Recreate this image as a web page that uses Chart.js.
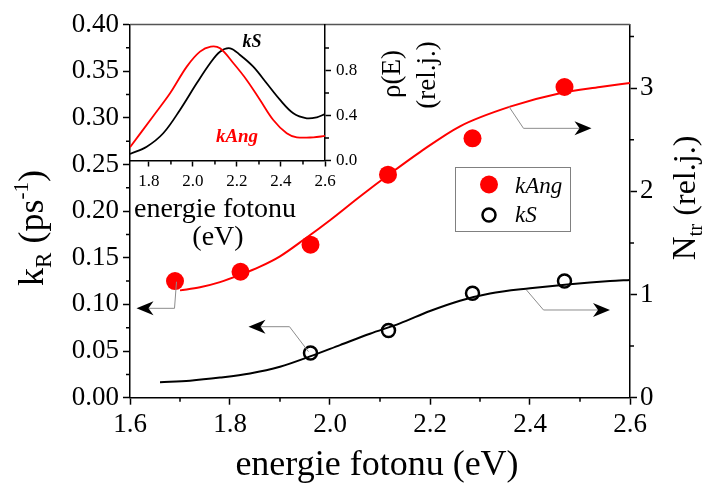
<!DOCTYPE html>
<html>
<head>
<meta charset="utf-8">
<script src="https://cdn.jsdelivr.net/npm/chart.js@4"></script>
<style>
  html, body { margin: 0; padding: 0; background: #fff; }
  #wrap { position: relative; width: 710px; height: 489px; }
  #main, #inset { position: absolute; left: 0; top: 0; }
  #inset { pointer-events: none; }
  .preload { position: absolute; left: -1000px; top: 0; font-family: "Liberation Serif"; }
</style>
</head>
<body>
<div id="wrap">
  <canvas id="main" width="710" height="489"></canvas>
  <canvas id="inset" width="450" height="260"></canvas>
</div>
<span class="preload">0.4 <i>kAng</i> <b><i>kS</i></b> ρ</span>
<script>
// ---- measured rates k_R (left axis) ----
const eAng = [1.69, 1.821, 1.961, 2.116, 2.285, 2.469];
const kAng = [0.125, 0.135, 0.164, 0.239, 0.278, 0.333];
const eS = [1.961, 2.117, 2.285, 2.469];
const kS = [0.048, 0.072, 0.112, 0.125];

// ---- N_tr curves (right axis) ----
const eNtrAng = [1.70, 1.74, 1.78, 1.82, 1.86, 1.90, 1.95, 2.00, 2.06, 2.12, 2.18, 2.26, 2.36, 2.46, 2.54, 2.60];
const ntrAng = [1.04, 1.07, 1.12, 1.19, 1.27, 1.37, 1.54, 1.72, 1.95, 2.17, 2.38, 2.63, 2.82, 2.95, 3.01, 3.05];
const eNtrS = [1.66, 1.72, 1.78, 1.84, 1.90, 1.96, 2.02, 2.08, 2.14, 2.20, 2.26, 2.32, 2.40, 2.48, 2.56, 2.60];
const ntrS = [0.15, 0.165, 0.195, 0.235, 0.30, 0.40, 0.51, 0.62, 0.72, 0.84, 0.94, 1.01, 1.06, 1.10, 1.13, 1.14];

// ---- inset: rho(E) spectra ----
const eRhoAng = [1.714, 1.82, 1.896, 1.972, 2.032, 2.081, 2.123, 2.184, 2.244, 2.305, 2.365, 2.426, 2.472, 2.547, 2.6];
const rhoAng = [0.117, 0.396, 0.597, 0.834, 0.967, 1.012, 0.997, 0.864, 0.716, 0.538, 0.36, 0.242, 0.206, 0.206, 0.218];
const eRhoS = [1.714, 1.79, 1.865, 1.941, 2.017, 2.078, 2.123, 2.169, 2.214, 2.274, 2.335, 2.396, 2.456, 2.517, 2.563, 2.6];
const rhoS = [0.058, 0.123, 0.242, 0.449, 0.686, 0.864, 0.967, 0.997, 0.938, 0.834, 0.686, 0.538, 0.42, 0.375, 0.384, 0.413];

// ---- tick labels ----
const xTicks = [1.6, 1.8, 2.0, 2.2, 2.4, 2.6];
const xMinor = [1.7, 1.9, 2.1, 2.3, 2.5];
const kTicks = [0, 0.05, 0.10, 0.15, 0.20, 0.25, 0.30, 0.35, 0.40];
const kMinor = [0.025, 0.075, 0.125, 0.175, 0.225, 0.275, 0.325, 0.375];
const ntrTicks = [0, 1, 2, 3];
const ntrMinor = [0.5, 1.5, 2.5, 3.5];
const insetXTicks = [1.8, 2.0, 2.2, 2.4, 2.6];
const insetXMinor = [1.9, 2.1, 2.3, 2.5];
const rhoTicks = [0, 0.4, 0.8];
const rhoMinor = [0.2, 0.6, 1.0];

// arrows pointing each series to its axis: [x, k_R] path, last point is the tip
const arrows = [
  [[2.357, 0.3127], [2.387, 0.2887], [2.523, 0.2887]],
  [[1.693, 0.1243], [1.689, 0.0958], [1.613, 0.0958]],
  [[1.957, 0.0493], [1.919, 0.0761], [1.837, 0.0761]],
  [[2.393, 0.1154], [2.427, 0.094], [2.56, 0.094]],
];

const FONT = '"Liberation Serif", serif';
Chart.defaults.font.family = FONT;
Chart.defaults.color = '#000';

const xy = (xs, ys) => xs.map((x, i) => ({ x, y: ys[i] }));
const fixedTicks = (vals) => (s) => { s.ticks = vals.map(v => ({ value: v })); };

function minorTicks(ctx, scale, vals, len, side) {
  const a = scale.chart.chartArea;
  ctx.save();
  ctx.strokeStyle = '#000';
  ctx.lineWidth = 1.5;
  ctx.beginPath();
  vals.forEach(v => {
    const p = scale.getPixelForValue(v);
    if (side === 'bottom') { ctx.moveTo(p, a.bottom); ctx.lineTo(p, a.bottom + len); }
    if (side === 'left') { ctx.moveTo(a.left - len, p); ctx.lineTo(a.left, p); }
    if (side === 'right') { ctx.moveTo(a.right, p); ctx.lineTo(a.right + len, p); }
  });
  ctx.stroke();
  ctx.restore();
}

// text made of runs: [text, size, shift, style, colour]
function richText(ctx, runs, cx, cy, rotate) {
  ctx.save();
  ctx.translate(cx, cy);
  if (rotate) ctx.rotate(-Math.PI / 2);
  ctx.textBaseline = 'alphabetic';
  ctx.textAlign = 'left';
  const fontOf = r => `${r[3] || 'normal'} ${r[1]}px ${FONT}`;
  let total = 0;
  runs.forEach(r => { ctx.font = fontOf(r); total += ctx.measureText(r[0]).width; });
  let x = -total / 2;
  runs.forEach(r => {
    ctx.font = fontOf(r);
    ctx.fillStyle = r[4] || '#000';
    ctx.fillText(r[0], x, r[2] || 0);
    x += ctx.measureText(r[0]).width;
  });
  ctx.restore();
}

function drawArrow(ctx, pts) {
  ctx.save();
  ctx.strokeStyle = '#8c8c8c';
  ctx.lineWidth = 1;
  const n = pts.length;
  const [tx, ty] = pts[n - 1];
  const [px, py] = pts[n - 2];
  const len = Math.hypot(tx - px, ty - py);
  const dx = (tx - px) / len, dy = (ty - py) / len;
  const L = 17, W = 7, N = 5;
  ctx.beginPath();
  ctx.moveTo(pts[0][0], pts[0][1]);
  for (let i = 1; i < n - 1; i++) ctx.lineTo(pts[i][0], pts[i][1]);
  ctx.lineTo(tx - dx * (L - N), ty - dy * (L - N));
  ctx.stroke();
  ctx.fillStyle = '#000';
  ctx.beginPath();
  ctx.moveTo(tx, ty);
  ctx.lineTo(tx - dx * L - dy * W, ty - dy * L + dx * W);
  ctx.lineTo(tx - dx * (L - N), ty - dy * (L - N));
  ctx.lineTo(tx - dx * L + dy * W, ty - dy * L - dx * W);
  ctx.closePath();
  ctx.fill();
  ctx.restore();
}

const mainDecor = {
  id: 'mainDecor',
  afterDraw(chart) {
    const { ctx, chartArea: a, scales } = chart;
    // top frame line
    ctx.save();
    ctx.strokeStyle = '#555';
    ctx.lineWidth = 1.5;
    ctx.beginPath();
    ctx.moveTo(a.left, a.top);
    ctx.lineTo(a.right, a.top);
    ctx.stroke();
    ctx.restore();

    minorTicks(ctx, scales.x, xMinor, 4, 'bottom');
    minorTicks(ctx, scales.y, kMinor, 4, 'left');
    minorTicks(ctx, scales.y2, ntrMinor, 4, 'right');

    arrows.forEach(path => drawArrow(ctx, path.map(([e, k]) =>
      [scales.x.getPixelForValue(e), scales.y.getPixelForValue(k)])));

    // axis titles
    richText(ctx, [['energie fotonu (eV)', 36]], 377, 475);
    richText(ctx, [['k', 36], ['R', 23, 8], [' (ps', 36], ['-1', 21, -15], [')', 36]], 43, 228, true);
    richText(ctx, [['N', 33], ['tr', 21, 7], [' (rel.j.)', 32]], 695, 198, true);

    // legend
    ctx.save();
    ctx.strokeStyle = '#808080';
    ctx.lineWidth = 1;
    ctx.strokeRect(455.5, 167.5, 115, 64);
    ctx.fillStyle = 'red';
    ctx.beginPath(); ctx.arc(489, 184.5, 9, 0, Math.PI * 2); ctx.fill();
    ctx.strokeStyle = '#000';
    ctx.lineWidth = 2.5;
    ctx.beginPath(); ctx.arc(489, 215, 6.5, 0, Math.PI * 2); ctx.stroke();
    ctx.fillStyle = '#000';
    ctx.font = `italic 23px ${FONT}`;
    ctx.textBaseline = 'alphabetic';
    ctx.fillText(chart.data.datasets[0].label, 515, 193);
    ctx.fillText(chart.data.datasets[1].label, 515, 222);
    ctx.restore();
  }
};

const insetDecor = {
  id: 'insetDecor',
  afterDraw(chart) {
    const { ctx, scales } = chart;
    minorTicks(ctx, scales.x, insetXMinor, 4, 'bottom');
    minorTicks(ctx, scales.y, rhoMinor, 4, 'right');
    richText(ctx, [['energie fotonu', 28]], 215, 217);
    richText(ctx, [['(eV)', 28]], 218, 245);
    richText(ctx, [['ρ(E)', 27]], 400, 74, true);
    richText(ctx, [['(rel.j.)', 27]], 435, 75, true);
    richText(ctx, [['kS', 18, 0, 'italic bold']], 252, 47);
    richText(ctx, [['kAng', 19, 0, 'italic bold', 'red']], 237, 142);
  }
};

const axisGrid = { drawOnChartArea: false, drawTicks: true, tickLength: 7, tickColor: '#000', tickWidth: 1.5 };
const insetGrid = { drawOnChartArea: false, drawTicks: true, tickLength: 6, tickColor: '#000', tickWidth: 1.5 };
const axisBorder = { display: true, color: '#000', width: 1.5 };

function drawCharts() {
  new Chart(document.getElementById('main'), {
    type: 'line',
    data: {
      datasets: [
        {
          label: 'kAng', data: xy(eAng, kAng), yAxisID: 'y', showLine: false,
          pointRadius: 9, pointBackgroundColor: 'red', pointBorderWidth: 0,
        },
        {
          label: 'kS', data: xy(eS, kS), yAxisID: 'y', showLine: false,
          pointRadius: 6.5, pointBackgroundColor: 'rgba(0,0,0,0)', pointBorderColor: '#000', pointBorderWidth: 2.5,
        },
        {
          label: 'Ntr kAng', data: xy(eNtrAng, ntrAng), yAxisID: 'y2',
          borderColor: 'red', borderWidth: 2, pointRadius: 0, tension: 0.4, cubicInterpolationMode: 'monotone',
        },
        {
          label: 'Ntr kS', data: xy(eNtrS, ntrS), yAxisID: 'y2',
          borderColor: '#000', borderWidth: 2, pointRadius: 0, tension: 0.4, cubicInterpolationMode: 'monotone',
        },
      ],
    },
    options: {
      responsive: false,
      animation: false,
      layout: { padding: { top: 24.5, left: 0, right: 0, bottom: 0 } },
      plugins: { legend: { display: false }, tooltip: { enabled: false } },
      scales: {
        x: {
          type: 'linear', position: 'bottom', min: 1.6, max: 2.6,
          afterBuildTicks: fixedTicks(xTicks),
          afterFit: s => { s.height = 91.3; },
          ticks: { font: { family: FONT, size: 27 }, padding: 4, maxRotation: 0, autoSkip: false, callback: v => v.toFixed(1) },
          grid: axisGrid, border: axisBorder,
        },
        y: {
          type: 'linear', position: 'left', min: 0, max: 0.4,
          afterBuildTicks: fixedTicks(kTicks),
          afterFit: s => { s.width = 130; },
          ticks: { font: { family: FONT, size: 27 }, padding: 4, autoSkip: false, callback: v => v.toFixed(2) },
          grid: axisGrid, border: axisBorder,
        },
        y2: {
          type: 'linear', position: 'right', min: 0, max: 3.616,
          afterBuildTicks: fixedTicks(ntrTicks),
          afterFit: s => { s.width = 80; },
          ticks: { font: { family: FONT, size: 27 }, padding: 3, autoSkip: false, callback: v => String(v) },
          grid: axisGrid, border: axisBorder,
        },
      },
    },
    plugins: [mainDecor],
  });

  new Chart(document.getElementById('inset'), {
    type: 'line',
    data: {
      datasets: [
        { label: 'kAng', data: xy(eRhoAng, rhoAng), borderColor: 'red', borderWidth: 1.8, pointRadius: 0, tension: 0.35 },
        { label: 'kS', data: xy(eRhoS, rhoS), borderColor: '#000', borderWidth: 1.8, pointRadius: 0, tension: 0.35 },
      ],
    },
    options: {
      responsive: false,
      animation: false,
      layout: { padding: { top: 25, left: 130, right: 0, bottom: 0 } },
      plugins: { legend: { display: false }, tooltip: { enabled: false } },
      scales: {
        x: {
          type: 'linear', position: 'bottom', min: 1.714, max: 2.6,
          afterBuildTicks: fixedTicks(insetXTicks),
          afterFit: s => { s.height = 99.5; },
          ticks: { font: { family: FONT, size: 17 }, padding: 5, maxRotation: 0, autoSkip: false, callback: v => v.toFixed(1) },
          grid: insetGrid, border: axisBorder,
        },
        y: {
          type: 'linear', position: 'right', min: 0, max: 1.204,
          afterBuildTicks: fixedTicks(rhoTicks),
          afterFit: s => { s.width = 125; },
          ticks: { font: { family: FONT, size: 17 }, padding: 5, autoSkip: false, callback: v => v.toFixed(1) },
          grid: insetGrid, border: axisBorder,
        },
      },
    },
    plugins: [insetDecor],
  });
}

Promise.all([
  document.fonts.load('27px "Liberation Serif"'),
  document.fonts.load('italic 23px "Liberation Serif"'),
  document.fonts.load('italic bold 18px "Liberation Serif"'),
]).catch(() => {}).then(drawCharts);
</script>
</body>
</html>
